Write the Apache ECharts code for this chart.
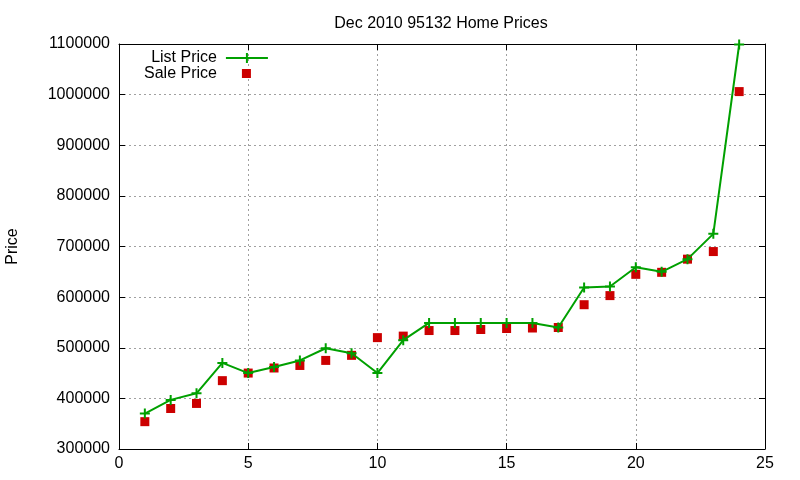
<!DOCTYPE html>
<html>
<head>
<meta charset="utf-8">
<script src="https://cdn.jsdelivr.net/npm/echarts@6/dist/echarts.min.js"></script>
<style>
  html, body { margin: 0; padding: 0; background: #fff; }
  #chart { width: 800px; height: 480px; }
</style>
</head>
<body>
<div id="chart"></div>
<script>
const houses = [1, 2, 3, 4, 5, 6, 7, 8, 9, 10, 11, 12, 13, 14, 15, 16, 17, 18, 19, 20, 21, 22, 23, 24];
const listPrice = [370000, 397000, 410000, 470000, 450000, 462000, 475000, 499000, 489000, 450000, 515000,
  549000, 549000, 549000, 549000, 549000, 540000, 619000, 621000, 659000, 650000, 675000, 725000, 1099000];
const salePrice = [354000, 380000, 390000, 435000, 450000, 460000, 465000, 475000, 485000, 520000, 523000,
  534000, 534000, 536000, 538000, 539000, 540000, 585000, 603000, 645000, 649000, 675000, 690000, 1006000];

const font = '"Liberation Sans", Arial, sans-serif';
const plusIcon = 'path://M4,0h2v4h4v2h-4v4h-2v-4h-4v-2h4z';
// legend icons: tiny corner dots keep the 42x10 box so the shapes are not stretched
const listKey = 'path://M0,4h42v2h-42z M20,0h2v10h-2z';
const saleKey = 'path://M0,0h0.01v0.01h-0.01z M16,0h9v9h-9z M41.99,9.99h0.01v0.01h-0.01z';

const chart = echarts.init(document.getElementById('chart'));

const gridLine = { show: true, lineStyle: { color: '#a0a0a0', type: [2, 3], width: 1 } };
const frameLine = { show: true, onZero: false, lineStyle: { color: '#000', width: 1 } };
const inTick = { show: true, inside: true, length: 6, lineStyle: { color: '#000' } };

chart.setOption({
  animation: false,
  backgroundColor: '#fff',
  title: {
    text: 'Dec 2010 95132 Home Prices',
    left: 436,
    textAlign: 'center',
    top: 11,
    textStyle: { fontFamily: font, fontSize: 16, fontWeight: 'normal', color: '#000' }
  },
  grid: { left: 119, right: 35, top: 44, bottom: 31, outerBoundsMode: 'none', containLabel: false },
  legend: {
    orient: 'vertical',
    left: 139,
    top: 45,
    align: 'right',
    itemGap: 0,
    itemWidth: 42,
    itemHeight: 10,
    textStyle: { fontFamily: font, fontSize: 16, color: '#000', padding: [0, 4, 0, 0] },
    data: [
      { name: 'List Price', icon: listKey },
      { name: 'Sale Price', icon: saleKey }
    ]
  },
  xAxis: [
    {
      type: 'value', min: 0, max: 25, interval: 5,
      axisLine: frameLine, axisTick: inTick, splitLine: gridLine,
      axisLabel: { fontFamily: font, fontSize: 16, color: '#000', margin: 7 }
    },
    {
      type: 'value', position: 'top', min: 0, max: 25, interval: 5,
      axisLine: frameLine, axisTick: inTick, splitLine: { show: false },
      axisLabel: { show: false }
    }
  ],
  yAxis: [
    {
      type: 'value', min: 300000, max: 1100000, interval: 100000,
      name: 'Price', nameLocation: 'middle', nameGap: 98, nameRotate: 90,
      nameTextStyle: { fontFamily: font, fontSize: 16, color: '#000' },
      axisLine: frameLine, axisTick: inTick, splitLine: gridLine,
      axisLabel: { fontFamily: font, fontSize: 16, color: '#000', margin: 9, formatter: v => String(v) }
    },
    {
      type: 'value', position: 'right', min: 300000, max: 1100000, interval: 100000,
      axisLine: frameLine, axisTick: inTick, splitLine: { show: false },
      axisLabel: { show: false }
    }
  ],
  series: [
    {
      name: 'List Price',
      type: 'line',
      data: houses.map((h, i) => [h, listPrice[i]]),
      symbol: plusIcon,
      symbolSize: 10,
      showAllSymbol: true,
      lineStyle: { color: '#00a000', width: 2 },
      itemStyle: { color: '#00a000' },
      z: 3
    },
    {
      name: 'Sale Price',
      type: 'scatter',
      data: houses.map((h, i) => [h, salePrice[i]]),
      symbol: 'rect',
      symbolSize: 9,
      itemStyle: { color: '#cc0000', opacity: 1 },
      z: 2
    }
  ]
});
</script>
</body>
</html>
